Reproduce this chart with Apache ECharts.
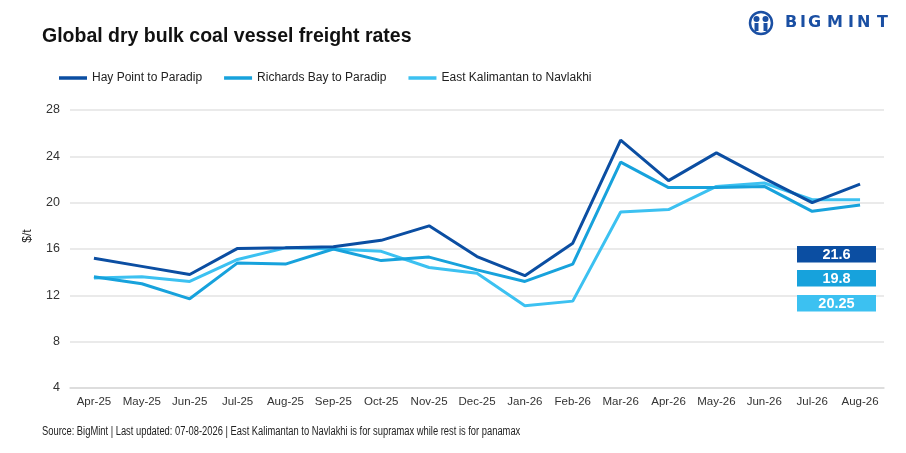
<!DOCTYPE html>
<html>
<head>
<meta charset="utf-8">
<script src="https://cdn.jsdelivr.net/npm/echarts@6/dist/echarts.min.js"></script>
<style>
html,body{margin:0;padding:0;background:#fff;}
#c{width:906px;height:453px;}
</style>
</head>
<body>
<div id="c"></div>
<script>
const categories = ['Apr-25','May-25','Jun-25','Jul-25','Aug-25','Sep-25','Oct-25','Nov-25','Dec-25','Jan-26','Feb-26','Mar-26','Apr-26','May-26','Jun-26','Jul-26','Aug-26'];
const hayPoint = [15.2,14.5,13.8,16.05,16.1,16.2,16.75,18.0,15.35,13.7,16.5,25.4,21.9,24.3,22.1,20.0,21.6];
const richardsBay = [13.6,13.0,11.7,14.8,14.7,16.0,15.0,15.3,14.2,13.2,14.7,23.5,21.3,21.3,21.4,19.25,19.8];
const eastKalimantan = [13.5,13.6,13.2,15.1,16.1,16.0,15.8,14.4,13.9,11.1,11.5,19.2,19.4,21.4,21.7,20.25,20.25];
const seriesNames = ['Hay Point to Paradip','Richards Bay to Paradip','East Kalimantan to Navlakhi'];
const yTicks = [4,8,12,16,20,24,28];
const titleText = 'Global dry bulk coal vessel freight rates';
const footText = 'Source: BigMint | Last updated: 07-08-2026 | East Kalimantan to Navlakhi is for supramax while rest is for panamax';
const yName = '$/t';

const colors = ['#0b4ea2','#17a2dc','#3cc1f1'];
const seriesData = [hayPoint, richardsBay, eastKalimantan];
const font = 'Liberation Sans, Arial, sans-serif';

const chart = echarts.init(document.getElementById('c'));

const graphics = [];
graphics.push({type:'text', left:42, top:27, z:100, style:{text:titleText, font:'bold 19.5px ' + font, fill:'#111'}});
graphics.push({type:'text', x:42, y:426, scaleX:0.78, z:100, style:{text:footText, font:'12px ' + font, fill:'#222'}});
graphics.push({type:'text', x:28, y:236, rotation:Math.PI/2, z:100, style:{text:yName, font:'12px ' + font, fill:'#222', align:'center', verticalAlign:'middle'}});

// last value boxes
const boxTops = [246, 270, 295];
seriesData.forEach((arr, i) => {
  graphics.push({type:'rect', z:100, shape:{x:797, y:boxTops[i], width:79, height:16.5}, style:{fill:colors[i]}});
  graphics.push({type:'text', z:101, x:836.5, y:boxTops[i]+8.5, style:{text:String(arr[arr.length-1]), font:'bold 14.5px ' + font, fill:'#fff', align:'center', verticalAlign:'middle'}});
});

// logo
const logoBlue = '#1a4fa3';
graphics.push({type:'circle', z:100, shape:{cx:761, cy:23, r:11}, style:{fill:'none', stroke:logoBlue, lineWidth:2.5}});
graphics.push({type:'circle', z:100, shape:{cx:756.5, cy:19, r:3}, style:{fill:logoBlue}});
graphics.push({type:'circle', z:100, shape:{cx:765.5, cy:19, r:3}, style:{fill:logoBlue}});
graphics.push({type:'rect', z:100, shape:{x:754.5, y:23, width:4, height:8}, style:{fill:logoBlue}});
graphics.push({type:'rect', z:100, shape:{x:763.5, y:23, width:4, height:8}, style:{fill:logoBlue}});
const logoLetters = 'BIGMINT'.split('');
const letterX = [785, 800, 808, 827, 848, 857, 877];
logoLetters.forEach((ch, i) => {
  graphics.push({type:'text', z:100, left:letterX[i], top:15, style:{text:ch, font:'bold 16px "DejaVu Sans", ' + font, fill:logoBlue}});
});

chart.setOption({
  animation:false,
  color:colors,
  legend:{
    data:seriesNames,
    left:59, top:72, padding:0,
    icon:'rect', itemWidth:28, itemHeight:3.5, itemGap:22,
    textStyle:{fontSize:12, fontFamily:font, color:'#222'}
  },
  grid:{left:70, right:22, top:110, bottom:65},
  xAxis:{
    type:'category', data:categories, boundaryGap:true,
    axisLine:{show:true, lineStyle:{color:'#d9d9d9', width:1.5}},
    axisTick:{show:false},
    axisLabel:{fontSize:11.5, fontFamily:font, color:'#333', margin:8, interval:0}
  },
  yAxis:{
    type:'value', min:4, max:28, interval:4,
    axisLine:{show:false}, axisTick:{show:false},
    splitLine:{lineStyle:{color:'#e3e3e3', width:1.5}},
    axisLabel:{fontSize:12.5, fontFamily:font, color:'#333', margin:10,
      customValues: yTicks}
  },
  series: seriesData.map((d, i) => ({
    name:seriesNames[i], type:'line', data:d, symbol:'none',
    lineStyle:{width:3, color:colors[i]}, z: 3 - i
  })),
  graphic: graphics
});
</script>
</body>
</html>
